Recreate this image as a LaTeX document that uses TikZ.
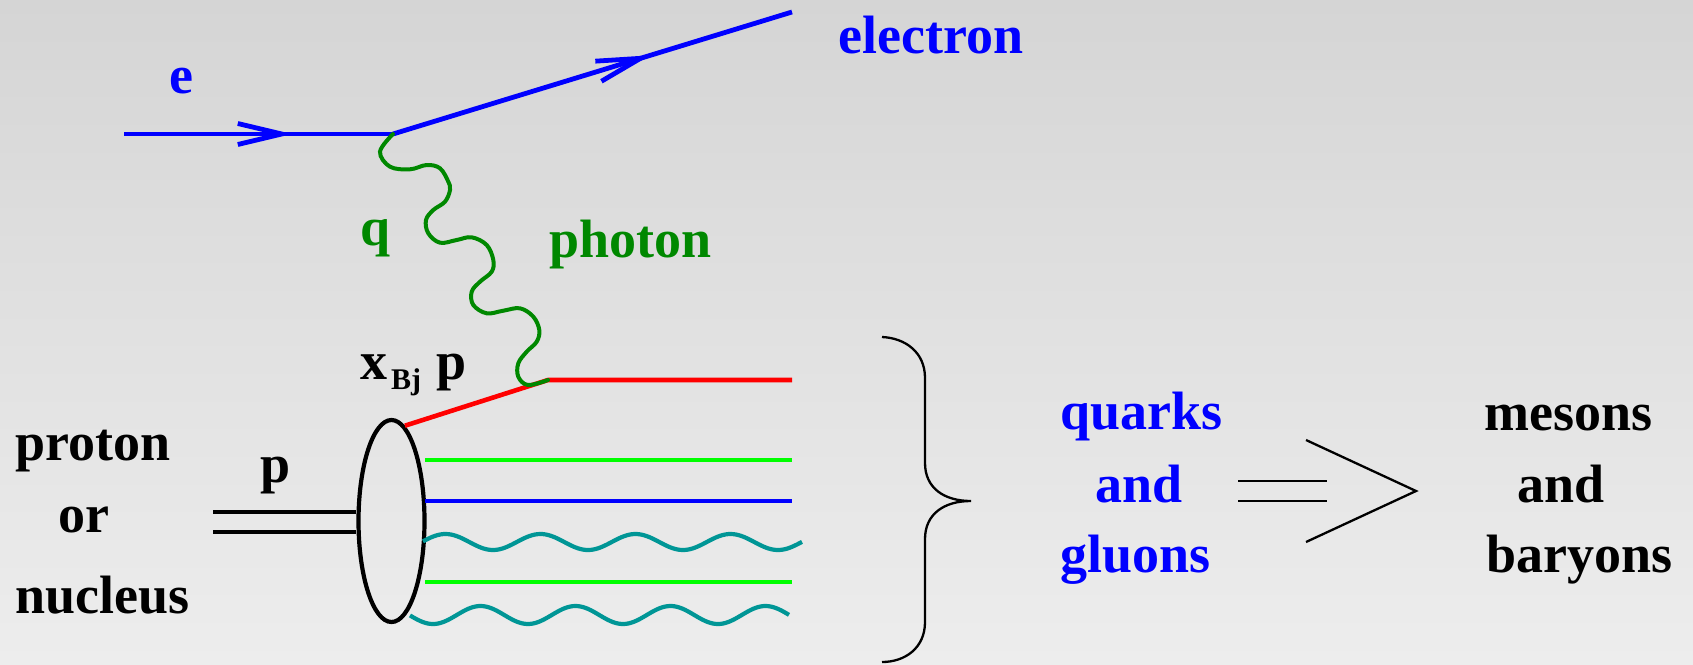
\documentclass[tikz,border=0pt]{standalone}
\usepackage{fontspec}
\setmainfont{Liberation Serif}
\usetikzlibrary{shapes.geometric,arrows.meta,decorations.markings}
\definecolor{eblue}{RGB}{0,0,255}
\definecolor{phgreen}{RGB}{0,136,0}
\definecolor{lgreen}{RGB}{0,255,0}
\definecolor{gteal}{RGB}{0,150,150}
\definecolor{qred}{RGB}{255,0,0}
\definecolor{bgtop}{RGB}{213,213,213}
\definecolor{bgbot}{RGB}{237,237,237}
\begin{document}
\begin{tikzpicture}[x=1pt,y=-1pt,
  txt/.style={inner sep=0pt, anchor=base west, font=\fontsize{54}{60}\selectfont\bfseries},
  fermion/.style={eblue, line width=4.8pt},
  barbat/.style={postaction={decorate}, decoration={markings, mark=at position #1 with {\arrow{Straight Barb[length=44pt,width=21pt]}}}},
  photonline/.style={phgreen, line width=4pt, line cap=round},
  partonline/.style={line width=4.6pt},
  gluonline/.style={gteal, line width=4.2pt},
  hline/.style={black, line width=2.3pt},
  beamline/.style={black, line width=4.2pt}
]
\useasboundingbox (0,0) rectangle (1693,664);
\shade[top color=bgtop, bottom color=bgbot] (0,0) rectangle (1693,664);

% electron lines
\coordinate (ein) at (124,134);
\coordinate (v1) at (393,134);
\coordinate (eout) at (792,12);
\draw[fermion, barbat=0.625] (ein) -- (v1);
\draw[fermion, barbat=0.645] (v1) -- (eout);

% proton blob
\node[draw, ellipse, line width=4.2pt, minimum width=66pt, minimum height=202pt, inner sep=0pt] (ell) at (391.5,521) {};

% incoming proton double line
\coordinate (pa) at (213,512);
\coordinate (pb) at (213,532);
\draw[beamline] (pa) -- (pa -| ell.west);
\draw[beamline] (pb) -- (pb -| ell.west);

% struck quark
\coordinate (v2) at (548,380);
\coordinate (qend) at (792,380);
\draw[qred, partonline] (ell.82) -- (v2) -- (qend);

% photon
\draw[photonline] plot[smooth, tension=0.6] coordinates {(v1) (380,151.7) (390,166.7) (410,169.3) (426.7,165) (440,168.3) (448.3,181.7) (450,190) (445,201.7) (433.3,210) (426,220) (428.3,233.3) (440,242.7) (456.7,240) (471.7,237.3) (486.7,245) (493.3,260) (491.7,271.7) (480,281.7) (471.7,291.7) (473.3,305) (486.7,313.3) (503.3,310.7) (520,308.3) (533.3,316.7) (539.3,330) (536.7,341.7) (526.7,351.7) (518.3,363.3) (518.3,376.7) (528,385) (v2)};

% spectator partons
\coordinate (g1a) at (425,460); \coordinate (g1b) at (792,460);
\coordinate (b1a) at (425,501); \coordinate (b1b) at (792,501);
\coordinate (g2a) at (425,582); \coordinate (g2b) at (792,582);
\draw[lgreen, partonline] (g1a) -- (g1b);
\draw[eblue, partonline] (b1a) -- (b1b);
\draw[lgreen, partonline] (g2a) -- (g2b);
\draw[gluonline] plot[domain=423:802, samples=150, smooth] (\x, {542+8*cos(3.78947*(\x-493))});
\draw[gluonline] plot[domain=410:789, samples=150, smooth] (\x, {615+9*cos(3.78947*(\x-433))});

% brace
\coordinate (brtop) at (882,337);
\coordinate (brtip) at (971,501);
\coordinate (brbot) at (882,662);
\draw[hline] (brtop) .. controls (905,338) and (925,352) .. (925,378) -- (925,463)
  .. controls (925,488) and (944,501) .. (brtip)
  .. controls (944,501) and (925,514) .. (925,539) -- (925,622)
  .. controls (925,648) and (905,662) .. (brbot);

% implies arrow
\coordinate (eqa) at (1238,481); \coordinate (eqb) at (1327,481);
\coordinate (eqc) at (1238,501); \coordinate (eqd) at (1327,501);
\draw[hline] (eqa) -- (eqb);
\draw[hline] (eqc) -- (eqd);
\coordinate (cha) at (1306,440); \coordinate (chtip) at (1416,491); \coordinate (chb) at (1306,542);
\draw[hline] (cha) -- (chtip) -- (chb);

% labels
\node[txt, eblue] (le) at (169,93) {e};
\node[txt, eblue] (lelectron) at (838,53) {electron};
\node[txt, phgreen] (lq) at (360,245) {q};
\node[txt, phgreen] (lphoton) at (549,257) {photon};
\node[txt] (lxbj) at (360,379) {x\hspace{4pt}\raisebox{-10pt}{\fontsize{30}{30}\selectfont Bj}\hspace{15pt}p};
\node[txt] (lp) at (260,482) {p};
\node[txt] (lproton) at (15,460) {proton};
\node[txt] (lor) at (58,532) {or};
\node[txt] (lnucleus) at (15,613) {nucleus};
\node[txt, eblue] (lquarks) at (1060,429) {quarks};
\node[txt, eblue] (land1) at (1095,502) {and};
\node[txt, eblue] (lgluons) at (1060,572) {gluons};
\node[txt] (lmesons) at (1484,430) {mesons};
\node[txt] (land2) at (1517,502) {and};
\node[txt] (lbaryons) at (1486,572) {baryons};
\end{tikzpicture}
\end{document}
